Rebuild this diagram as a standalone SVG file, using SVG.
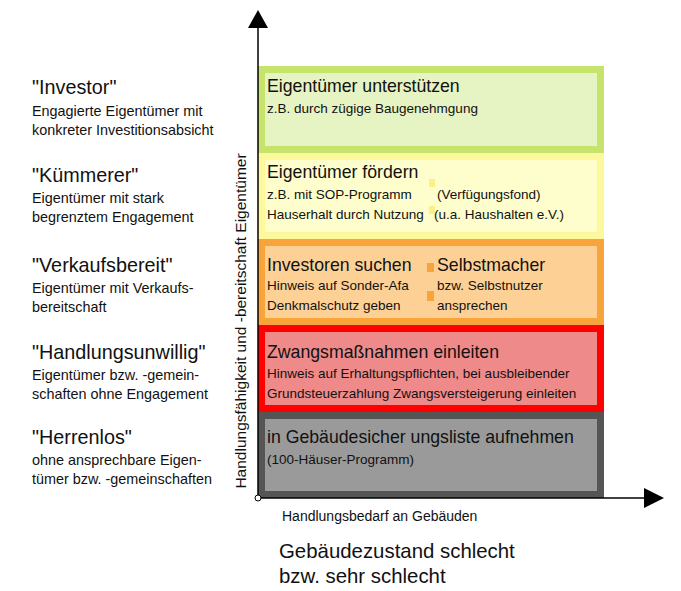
<svg xmlns="http://www.w3.org/2000/svg" width="681" height="591" viewBox="0 0 681 591">
<style>
text{font-family:"Liberation Sans",Arial,sans-serif;fill:#111}
.h{font-size:17.7px}
.s{font-size:13.5px}
.lh{font-size:19.8px}
.ls{font-size:14.4px}
.ax{font-size:14px}
.b{font-size:20.4px}
</style>
<rect width="681" height="591" fill="#fff"/>
<g id="box-green">
<rect x="258" y="66" width="346" height="87" fill="#c6e46c"/>
<rect x="265" y="73" width="332" height="73" fill="#e6f3c2"/>
<text class="h" x="267" y="92">Eigentümer unterstützen</text>
<text class="s" x="267" y="113">z.B. durch zügige Baugenehmgung</text>
</g>
<g id="box-yellow">
<rect x="258" y="153" width="346" height="86" fill="#fdf89c"/>
<rect x="265" y="160" width="332" height="72" fill="#fefdcc"/>
<rect x="429" y="179" width="6" height="8" fill="#fbf08a"/>
<rect x="429" y="206" width="6" height="8" fill="#fbf08a"/>
<text class="h" x="267" y="178">Eigentümer fördern</text>
<text class="s" x="267" y="199">z.B. mit SOP-Programm</text>
<text class="s" x="437" y="199">(Verfügungsfond)</text>
<text class="s" x="267" y="219">Hauserhalt durch Nutzung</text>
<text class="s" x="434" y="219">(u.a. Haushalten e.V.)</text>
</g>
<g id="box-orange">
<rect x="258" y="239" width="346" height="86" fill="#f9a43a"/>
<rect x="265" y="246" width="332" height="72" fill="#fdd196"/>
<rect x="427" y="263" width="7" height="9" fill="#f9a43a"/>
<rect x="427" y="291" width="7" height="10" fill="#f9a43a"/>
<text class="h" x="267" y="271">Investoren suchen</text>
<text class="h" x="437" y="271">Selbstmacher</text>
<text class="s" x="267" y="290">Hinweis auf Sonder-Afa</text>
<text class="s" x="267" y="310">Denkmalschutz geben</text>
<text class="s" x="437" y="290">bzw. Selbstnutzer</text>
<text class="s" x="437" y="310">ansprechen</text>
</g>
<g id="box-red">
<rect x="258" y="325" width="346" height="87" fill="#ff0000"/>
<rect x="265" y="332" width="332" height="73" fill="#ef8a8a"/>
<text class="h" x="267" y="358">Zwangsmaßnahmen einleiten</text>
<text class="s" x="267" y="378">Hinweis auf Erhaltungspflichten, bei ausbleibender</text>
<text class="s" x="267" y="398">Grundsteuerzahlung Zwangsversteigerung einleiten</text>
</g>
<g id="box-gray">
<rect x="258" y="412" width="346" height="86" fill="#555555"/>
<rect x="265" y="419" width="332" height="72" fill="#9a9a9a"/>
<text class="h" x="267" y="443">in Gebäudesicher ungsliste aufnehmen</text>
<text class="s" x="267" y="464">(100-Häuser-Programm)</text>
</g>
<g id="labels">
<text class="lh" x="32" y="94">"Investor"</text>
<text class="ls" x="32" y="116">Engagierte Eigentümer mit</text>
<text class="ls" x="32" y="135">konkreter Investitionsabsicht</text>
<text class="lh" x="32" y="182">"Kümmerer"</text>
<text class="ls" x="32" y="203">Eigentümer mit stark</text>
<text class="ls" x="32" y="222">begrenztem Engagement</text>
<text class="lh" x="32" y="272">"Verkaufsbereit"</text>
<text class="ls" x="32" y="293">Eigentümer mit Verkaufs-</text>
<text class="ls" x="32" y="312">bereitschaft</text>
<text class="lh" x="32" y="359">"Handlungsunwillig"</text>
<text class="ls" x="32" y="380">Eigentümer bzw. -gemein-</text>
<text class="ls" x="32" y="399">schaften ohne Engagement</text>
<text class="lh" x="32" y="444">"Herrenlos"</text>
<text class="ls" x="32" y="465">ohne ansprechbare Eigen-</text>
<text class="ls" x="32" y="484">tümer bzw. -gemeinschaften</text>
</g>
<g id="connectors" stroke="#000" fill="#000">
<line x1="258" y1="498" x2="258" y2="26" stroke-width="1.5"/>
<polygon points="258,10 248,28 268,28" stroke="none"/>
<line x1="258" y1="498" x2="645" y2="498" stroke-width="1.5"/>
<polygon points="664,498 644,488 644,508" stroke="none"/>
<circle cx="258" cy="498" r="3" fill="#fff" stroke-width="1"/>
</g>
<g id="axis-labels">
<text class="ax" font-size="15.5" style="font-size:15.5px" transform="translate(246,321) rotate(-90)" text-anchor="middle">Handlungsfähigkeit und -bereitschaft Eigentümer</text>
<text class="ax" x="282" y="521">Handlungsbedarf an Gebäuden</text>
<text class="b" x="279" y="558">Gebäudezustand schlecht</text>
<text class="b" x="279" y="583">bzw. sehr schlecht</text>
</g>
</svg>
